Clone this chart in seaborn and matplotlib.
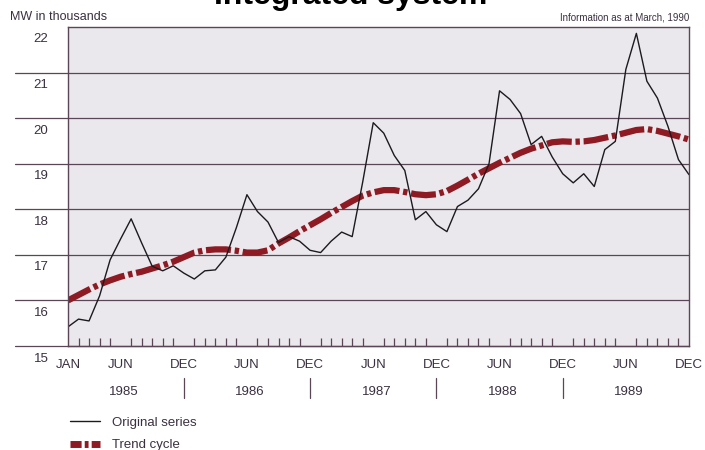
import numpy as np
import pandas as pd
import matplotlib.pyplot as plt
import matplotlib.transforms as mtransforms
from matplotlib.lines import Line2D
import seaborn as sns

# Monthly values, Jan 1985 - Dec 1989 (MW in thousands)
original = [
    15.42, 15.59, 15.55, 16.10, 16.89, 17.35, 17.79, 17.26, 16.75, 16.65, 16.76, 16.60,  # 1985
    16.47, 16.65, 16.67, 16.95, 17.60, 18.32, 17.95, 17.72, 17.27, 17.40, 17.30, 17.10,  # 1986
    17.05, 17.30, 17.50, 17.40, 18.60, 19.90, 19.67, 19.18, 18.85, 17.77, 17.95, 17.66,  # 1987
    17.51, 18.06, 18.20, 18.45, 19.00, 20.60, 20.41, 20.10, 19.42, 19.60, 19.15, 18.78,  # 1988
    18.58, 18.78, 18.50, 19.31, 19.49, 21.07, 21.86, 20.81, 20.44, 19.82, 19.09, 18.76,  # 1989
]
trend = [
    16.00, 16.12, 16.24, 16.35, 16.44, 16.52, 16.58, 16.63, 16.70, 16.77, 16.85, 16.95,
    17.05, 17.10, 17.12, 17.12, 17.09, 17.05, 17.05, 17.10, 17.25, 17.38, 17.52, 17.65,
    17.78, 17.92, 18.05, 18.18, 18.30, 18.37, 18.42, 18.42, 18.38, 18.33, 18.31, 18.33,
    18.40, 18.52, 18.65, 18.78, 18.90, 19.02, 19.13, 19.24, 19.33, 19.40, 19.47, 19.49,
    19.48, 19.49, 19.52, 19.57, 19.62, 19.68, 19.74, 19.76, 19.72, 19.66, 19.60, 19.53,
]
years = ["1985", "1986", "1987", "1988", "1989"]
month_ticks = [0, 5, 11, 17, 23, 29, 35, 41, 47, 53, 59]
month_labels = ["JAN", "JUN", "DEC", "JUN", "DEC", "JUN", "DEC", "JUN", "DEC", "JUN", "DEC"]
y_ticks = [15, 16, 17, 18, 19, 20, 21, 22]

df = pd.DataFrame({"month": np.arange(len(original)), "original": original, "trend": trend})

sns.set_theme(style="white")
plt.rcParams["font.family"] = ["Liberation Sans", "DejaVu Sans"]

ink = "#3a3040"
frame = "#5a4656"
red = "#8e1b24"

fig = plt.figure(figsize=(7.05, 4.5), dpi=100)
ax = fig.add_axes([68 / 705, 1 - 346 / 450, 621 / 705, 319 / 450])
ax.set_facecolor("#eae8ec")

sns.lineplot(data=df, x="month", y="trend", ax=ax, color=red, lw=4.5,
             linestyle=(0, (4, 0.6, 0.7, 0.6)), solid_capstyle="butt")
sns.lineplot(data=df, x="month", y="original", ax=ax, color="#1c1a1e", lw=1.0)

ax.set_xlim(0, 59)
ax.set_ylim(15, 22)
ax.set_xlabel("")
ax.set_ylabel("")

# horizontal rules, reaching out past the left axis
for v in y_ticks[:-1]:
    ax.axhline(v, xmin=-0.085, xmax=1, color=frame, lw=0.9, clip_on=False, zorder=1)

for s in ax.spines.values():
    s.set_color(frame)
    s.set_linewidth(1.0)

# y labels sit just below their rules
ax.set_yticks(y_ticks)
ax.set_yticklabels([str(v) for v in y_ticks])
ax.tick_params(axis="y", length=0, pad=14, labelsize=9.5, labelcolor=ink)
off = mtransforms.ScaledTranslation(0, -11 / 100, fig.dpi_scale_trans)
for lab in ax.get_yticklabels():
    lab.set_transform(lab.get_transform() + off)

# month ticks
ax.set_xticks(month_ticks)
ax.set_xticklabels(month_labels)
ax.set_xticks([m for m in range(60) if m not in month_ticks], minor=True)
ax.tick_params(axis="x", which="major", direction="inout", length=13, width=0.9,
               color=frame, pad=3, labelsize=9.5, labelcolor=ink)
ax.tick_params(axis="x", which="minor", direction="in", length=5.5, width=0.9,
               color=frame, bottom=True)
ticks = ax.xaxis.get_major_ticks()
ticks[0].tick1line.set_visible(False)
ticks[-1].tick1line.set_visible(False)

# year labels and separators
bt = mtransforms.blended_transform_factory(ax.transData, ax.transAxes)
for i, yr in enumerate(years):
    ax.text(5.3 + 12 * i, -0.143, yr, transform=bt, ha="center", va="center",
            fontsize=9.5, color=ink)
    if i < len(years) - 1:
        ax.plot([11 + 12 * i] * 2, [-0.1, -0.163], transform=bt, color=frame,
                lw=0.9, clip_on=False)

# texts around the plot (title is cut by the top edge, as in the source)
fig.text(0.497, 1 - 4 / 450, "Integrated system", ha="center", va="baseline",
         fontsize=23, fontweight="heavy", color="black")
fig.text(10 / 705, 1 - 17 / 450, "MW in thousands", ha="left", va="center",
         fontsize=9, color=ink)
fig.text(689 / 705, 1 - 18 / 450, "Information as at March, 1990", ha="right",
         va="center", fontsize=7, color=ink)

handles = [
    Line2D([], [], color="#1c1a1e", lw=1.0),
    Line2D([], [], color=red, lw=5, linestyle=(0, (1.6, 0.45, 0.55, 0.45))),
]
fig.legend(handles, ["Original series", "Trend cycle"], loc="upper left",
           bbox_to_anchor=(58 / 705, 1 - 405 / 450), frameon=False,
           fontsize=9.5, handlelength=2.3, handletextpad=0.9, labelspacing=0.75,
           labelcolor=ink)

plt.savefig("out.png", dpi=100)
